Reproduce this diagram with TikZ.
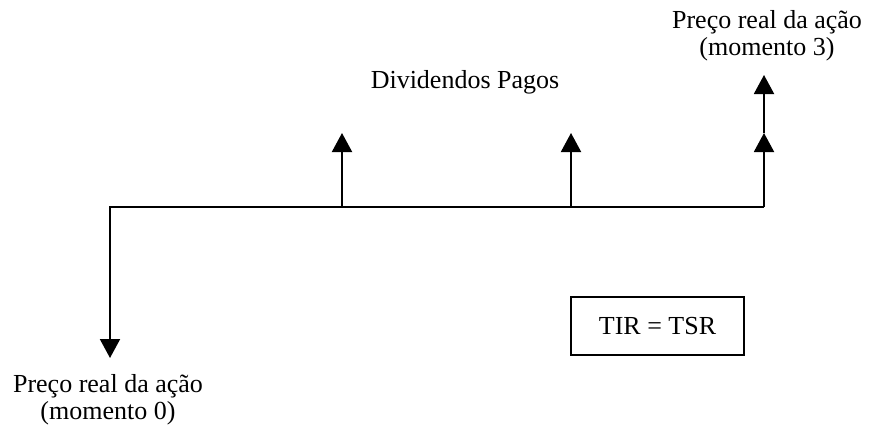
\documentclass[tikz,border=0pt]{standalone}
\usepackage{fontspec}
\setmainfont{Liberation Serif}
\usetikzlibrary{arrows.meta}
\begin{document}
\begin{tikzpicture}[x=1pt,y=-1pt,
  lbl/.style={font=\fontsize{26}{27}\selectfont, align=center, inner sep=0pt},
  flow/.style={line width=2pt},
  tip/.style={-{Triangle[width=20pt,length=19pt]}},
  boxnode/.style={draw, line width=1.6pt, minimum width=173pt, minimum height=58pt, inner sep=0pt, font=\fontsize{26}{27}\selectfont}]
\useasboundingbox (0,0) rectangle (872,426);
% coordinates
\coordinate (h0) at (110,207);
\coordinate (h1) at (342,207);
\coordinate (h2) at (571,207);
\coordinate (h3) at (764,207);
\coordinate (d0) at (110,358);
\coordinate (u1) at (342,133);
\coordinate (u2) at (571,133);
\coordinate (u3a) at (764,133);
\coordinate (u3b) at (764,75);
% lines
\draw[flow,tip] (h3) -- (h0) -- (d0);
\draw[flow,tip] (h1) -- (u1);
\draw[flow,tip] (h2) -- (u2);
\draw[flow,tip] (h3) -- (u3a);
\draw[flow,tip] (u3a) -- (u3b);
% texts
\node[lbl] (top) at (767,36) {Preço real da ação\\(momento 3)};
\node[lbl] (div) at (465,82) {Dividendos Pagos};
\node[lbl] (bot) at (108,400) {Preço real da ação\\(momento 0)};
\node[boxnode] (tir) at (657.5,326) {TIR = TSR};
\end{tikzpicture}
\end{document}
